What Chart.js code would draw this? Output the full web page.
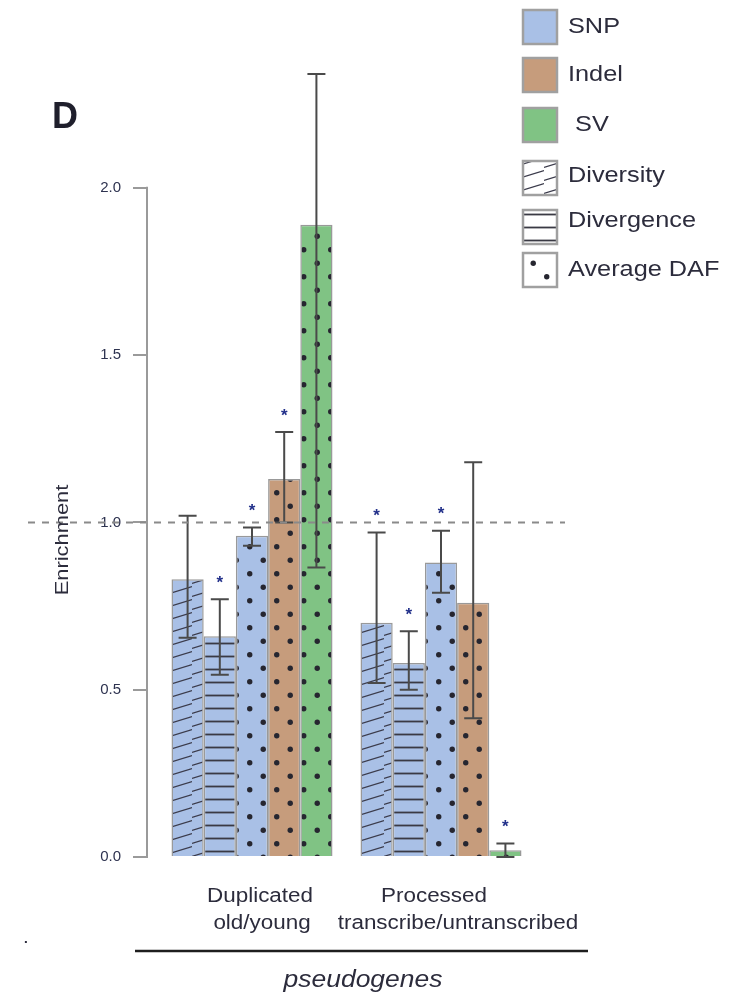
<!DOCTYPE html>
<html>
<head>
<meta charset="utf-8">
<script src="https://cdn.jsdelivr.net/npm/chart.js@4.4.0/dist/chart.umd.min.js"></script>
<style>
html, body { margin: 0; padding: 0; background: #fff; }
#wrap { position: relative; width: 742px; height: 996px; }
</style>
</head>
<body>
<div id="wrap"><canvas id="myChart"></canvas></div>
<script>
// DATOS
const groupLines = [['Duplicated', 'old/young'], ['Processed', 'transcribe/untranscribed']];
const groupTitle = 'pseudogenes';
const yTicks = [0, 0.5, 1.0, 1.5, 2.0];

// valores por serie (un valor por grupo)
const snpDiversity = [0.83, 0.70];
const snpDivergence = [0.66, 0.58];
const snpDaf = [0.96, 0.88];
const indelDaf = [1.13, 0.76];
const svDaf = [1.89, 0.02];

// barras de error (bajo / alto)
const snpDiversityLow = [0.655, 0.52];
const snpDiversityHigh = [1.02, 0.97];
const snpDivergenceLow = [0.545, 0.50];
const snpDivergenceHigh = [0.77, 0.675];
const snpDafLow = [0.93, 0.79];
const snpDafHigh = [0.985, 0.975];
const indelDafLow = [1.0, 0.415];
const indelDafHigh = [1.27, 1.18];
const svDafLow = [0.865, 0.0];
const svDafHigh = [2.34, 0.04];

// asteriscos de significancia
const snpDiversityStar = [false, true];
const snpDivergenceStar = [true, true];
const snpDafStar = [true, true];
const indelDafStar = [true, false];
const svDafStar = [false, true];

const legendColorLabels = ['SNP', 'Indel', ' SV'];
const legendPatternLabels = ['Diversity', 'Divergence', 'Average DAF'];

// COLORES Y PATRONES
const colSnp = '#a9c0e6';
const colIndel = '#c69c7c';
const colSv = '#80c384';
const ink = '#2c2c3c';

function makeHatch(color) {
    const c = document.createElement('canvas');
    c.width = 32; c.height = 13;
    const g = c.getContext('2d');
    g.fillStyle = color; g.fillRect(0, 0, 32, 13);
    g.strokeStyle = '#3c3c4c'; g.lineWidth = 1.3;
    g.beginPath(); g.moveTo(0, 11.5); g.lineTo(32, 1.5); g.stroke();
    return g.createPattern(c, 'repeat');
}

function makeLines(color) {
    const c = document.createElement('canvas');
    c.width = 8; c.height = 13;
    const g = c.getContext('2d');
    g.fillStyle = color; g.fillRect(0, 0, 8, 13);
    g.strokeStyle = '#3a3a44'; g.lineWidth = 1.8;
    g.beginPath(); g.moveTo(0, 6.5); g.lineTo(8, 6.5); g.stroke();
    return g.createPattern(c, 'repeat');
}

function makeDots(color) {
    const c = document.createElement('canvas');
    c.width = 27; c.height = 27;
    const g = c.getContext('2d');
    g.fillStyle = color; g.fillRect(0, 0, 27, 27);
    g.fillStyle = '#262630';
    [[6.75, 6.75], [20.25, 20.25]].forEach(p => {
        g.beginPath(); g.arc(p[0], p[1], 2.7, 0, Math.PI * 2); g.fill();
    });
    return g.createPattern(c, 'repeat');
}

const toPoints = vals => vals.map((v, i) => ({ x: i + 1, y: v }));

function stretchText(ctx, text, x, y, font, align, color, rot) {
    ctx.save();
    ctx.translate(x, y);
    if (rot) ctx.rotate(rot);
    ctx.scale(1.15, 1);
    ctx.font = font;
    ctx.fillStyle = color;
    ctx.textAlign = align;
    ctx.textBaseline = 'middle';
    ctx.fillText(text, 0, 0);
    ctx.restore();
}

const extras = {
    id: 'extras',
    afterDatasetsDraw(chart) {
        const ctx = chart.ctx;
        const y = chart.scales.y;
        // barras de error
        chart.data.datasets.forEach((ds, di) => {
            const meta = chart.getDatasetMeta(di);
            meta.data.forEach((bar, i) => {
                const yl = y.getPixelForValue(ds.errLow[i]);
                const yh = y.getPixelForValue(ds.errHigh[i]);
                ctx.save();
                ctx.strokeStyle = '#4a4a4a';
                ctx.lineWidth = 2;
                ctx.beginPath();
                ctx.moveTo(bar.x, yl); ctx.lineTo(bar.x, yh);
                ctx.moveTo(bar.x - 9, yl); ctx.lineTo(bar.x + 9, yl);
                ctx.moveTo(bar.x - 9, yh); ctx.lineTo(bar.x + 9, yh);
                ctx.stroke();
                ctx.restore();
                if (ds.stars[i]) {
                    ctx.save();
                    ctx.font = 'bold 17px "Liberation Sans"';
                    ctx.fillStyle = '#22308a';
                    ctx.textAlign = 'center';
                    ctx.textBaseline = 'middle';
                    ctx.fillText('*', bar.x, yh - 16);
                    ctx.restore();
                }
            });
        });
        // linea de referencia en 1.0
        const y1 = y.getPixelForValue(1.0);
        ctx.save();
        ctx.strokeStyle = '#8a8a8a';
        ctx.lineWidth = 2;
        ctx.setLineDash([7, 7]);
        ctx.beginPath();
        ctx.moveTo(28, y1); ctx.lineTo(chart.chartArea.right, y1);
        ctx.stroke();
        ctx.restore();
    },
    afterDraw(chart) {
        const ctx = chart.ctx;
        const y = chart.scales.y;
        const x = chart.scales.x;
        const left = chart.chartArea.left;
        // eje y
        ctx.save();
        ctx.strokeStyle = '#9a9a9a';
        ctx.lineWidth = 2;
        ctx.beginPath();
        ctx.moveTo(left, y.getPixelForValue(0) + 1);
        ctx.lineTo(left, y.getPixelForValue(2.0) - 1);
        ctx.stroke();
        ctx.restore();

        // titulo del eje y
        stretchText(ctx, 'Enrichment', 63, 540, '19px "Liberation Sans"', 'center', ink, -Math.PI / 2);
        // letra del panel
        ctx.save();
        ctx.font = 'bold 36px "Liberation Sans"';
        ctx.fillStyle = '#1f1f2c';
        ctx.textBaseline = 'alphabetic';
        ctx.fillText('D', 52, 128);
        ctx.restore();

        // etiquetas de grupos
        const offs = [[8, 10], [-7, 17]];
        groupLines.forEach((lines, gi) => {
            const cx = x.getPixelForValue(gi + 1);
            lines.forEach((t, li) => {
                stretchText(ctx, t, cx + offs[gi][li], 897 + li * 27, '19.5px "Liberation Sans"', 'center', ink);
            });
        });
        ctx.save();
        ctx.strokeStyle = '#1e1e1e';
        ctx.lineWidth = 2.5;
        ctx.beginPath();
        ctx.moveTo(135, 951); ctx.lineTo(588, 951);
        ctx.stroke();
        ctx.restore();
        stretchText(ctx, groupTitle, 363, 981, 'italic 23px "Liberation Sans"', 'center', ink);
        stretchText(ctx, '.', 26, 938, '18px "Liberation Sans"', 'center', ink);

        // leyenda
        const fills = [colSnp, colIndel, colSv, makeHatch('#fff'), makeLines('#fff'), makeDots('#fff')];
        const labels = legendColorLabels.concat(legendPatternLabels);
        const boxTops = [10, 58, 108, 161, 210, 253];
        const textY = [27, 75, 125, 176, 221, 270];
        labels.forEach((t, i) => {
            ctx.save();
            ctx.fillStyle = fills[i];
            ctx.fillRect(523, boxTops[i], 34, 34);
            ctx.strokeStyle = '#a0a0a0';
            ctx.lineWidth = 2.5;
            ctx.strokeRect(523, boxTops[i], 34, 34);
            ctx.restore();
            stretchText(ctx, t, 568, textY[i], '22px "Liberation Sans"', 'left', ink);
        });
    }
};

const ctx = document.getElementById('myChart').getContext('2d');

const myChart = new Chart(ctx, {
    type: 'bar',
    data: {
        datasets: [
            { label: 'SNP Diversity', data: toPoints(snpDiversity), backgroundColor: makeHatch(colSnp),
              errLow: snpDiversityLow, errHigh: snpDiversityHigh, stars: snpDiversityStar },
            { label: 'SNP Divergence', data: toPoints(snpDivergence), backgroundColor: makeLines(colSnp),
              errLow: snpDivergenceLow, errHigh: snpDivergenceHigh, stars: snpDivergenceStar },
            { label: 'SNP Average DAF', data: toPoints(snpDaf), backgroundColor: makeDots(colSnp),
              errLow: snpDafLow, errHigh: snpDafHigh, stars: snpDafStar },
            { label: 'Indel Average DAF', data: toPoints(indelDaf), backgroundColor: makeDots(colIndel),
              errLow: indelDafLow, errHigh: indelDafHigh, stars: indelDafStar },
            { label: 'SV Average DAF', data: toPoints(svDaf), backgroundColor: makeDots(colSv),
              errLow: svDafLow, errHigh: svDafHigh, stars: svDafStar }
        ]
    },
    options: {
        responsive: true,
        maintainAspectRatio: false,
        animation: false,
        layout: { padding: { left: 0, top: 54, right: 177, bottom: 139 } },
        datasets: {
            bar: {
                categoryPercentage: 0.852,
                barPercentage: 1.0,
                borderWidth: 1.5,
                borderColor: 'rgba(110,110,110,0.7)'
            }
        },
        plugins: {
            legend: { display: false },
            tooltip: { enabled: false }
        },
        scales: {
            x: {
                type: 'linear',
                display: false,
                offset: false,
                min: 0.4444,
                max: 2.6561,
                afterBuildTicks: (scale) => { scale.ticks = [{ value: 1 }, { value: 2 }]; }
            },
            y: {
                min: 0,
                max: 2.4,
                afterFit: (scale) => { scale.width = 147; },
                afterBuildTicks: (scale) => { scale.ticks = yTicks.map(v => ({ value: v })); },
                border: { display: false },
                grid: {
                    drawOnChartArea: false,
                    drawTicks: true,
                    tickLength: 14,
                    tickColor: '#9a9a9a',
                    lineWidth: 2
                },
                ticks: {
                    padding: 12,
                    color: '#2e3350',
                    font: { family: 'Liberation Sans', size: 15 },
                    callback: (v) => Number(v).toFixed(1)
                }
            }
        }
    },
    plugins: [extras]
});
</script>
</body>
</html>
